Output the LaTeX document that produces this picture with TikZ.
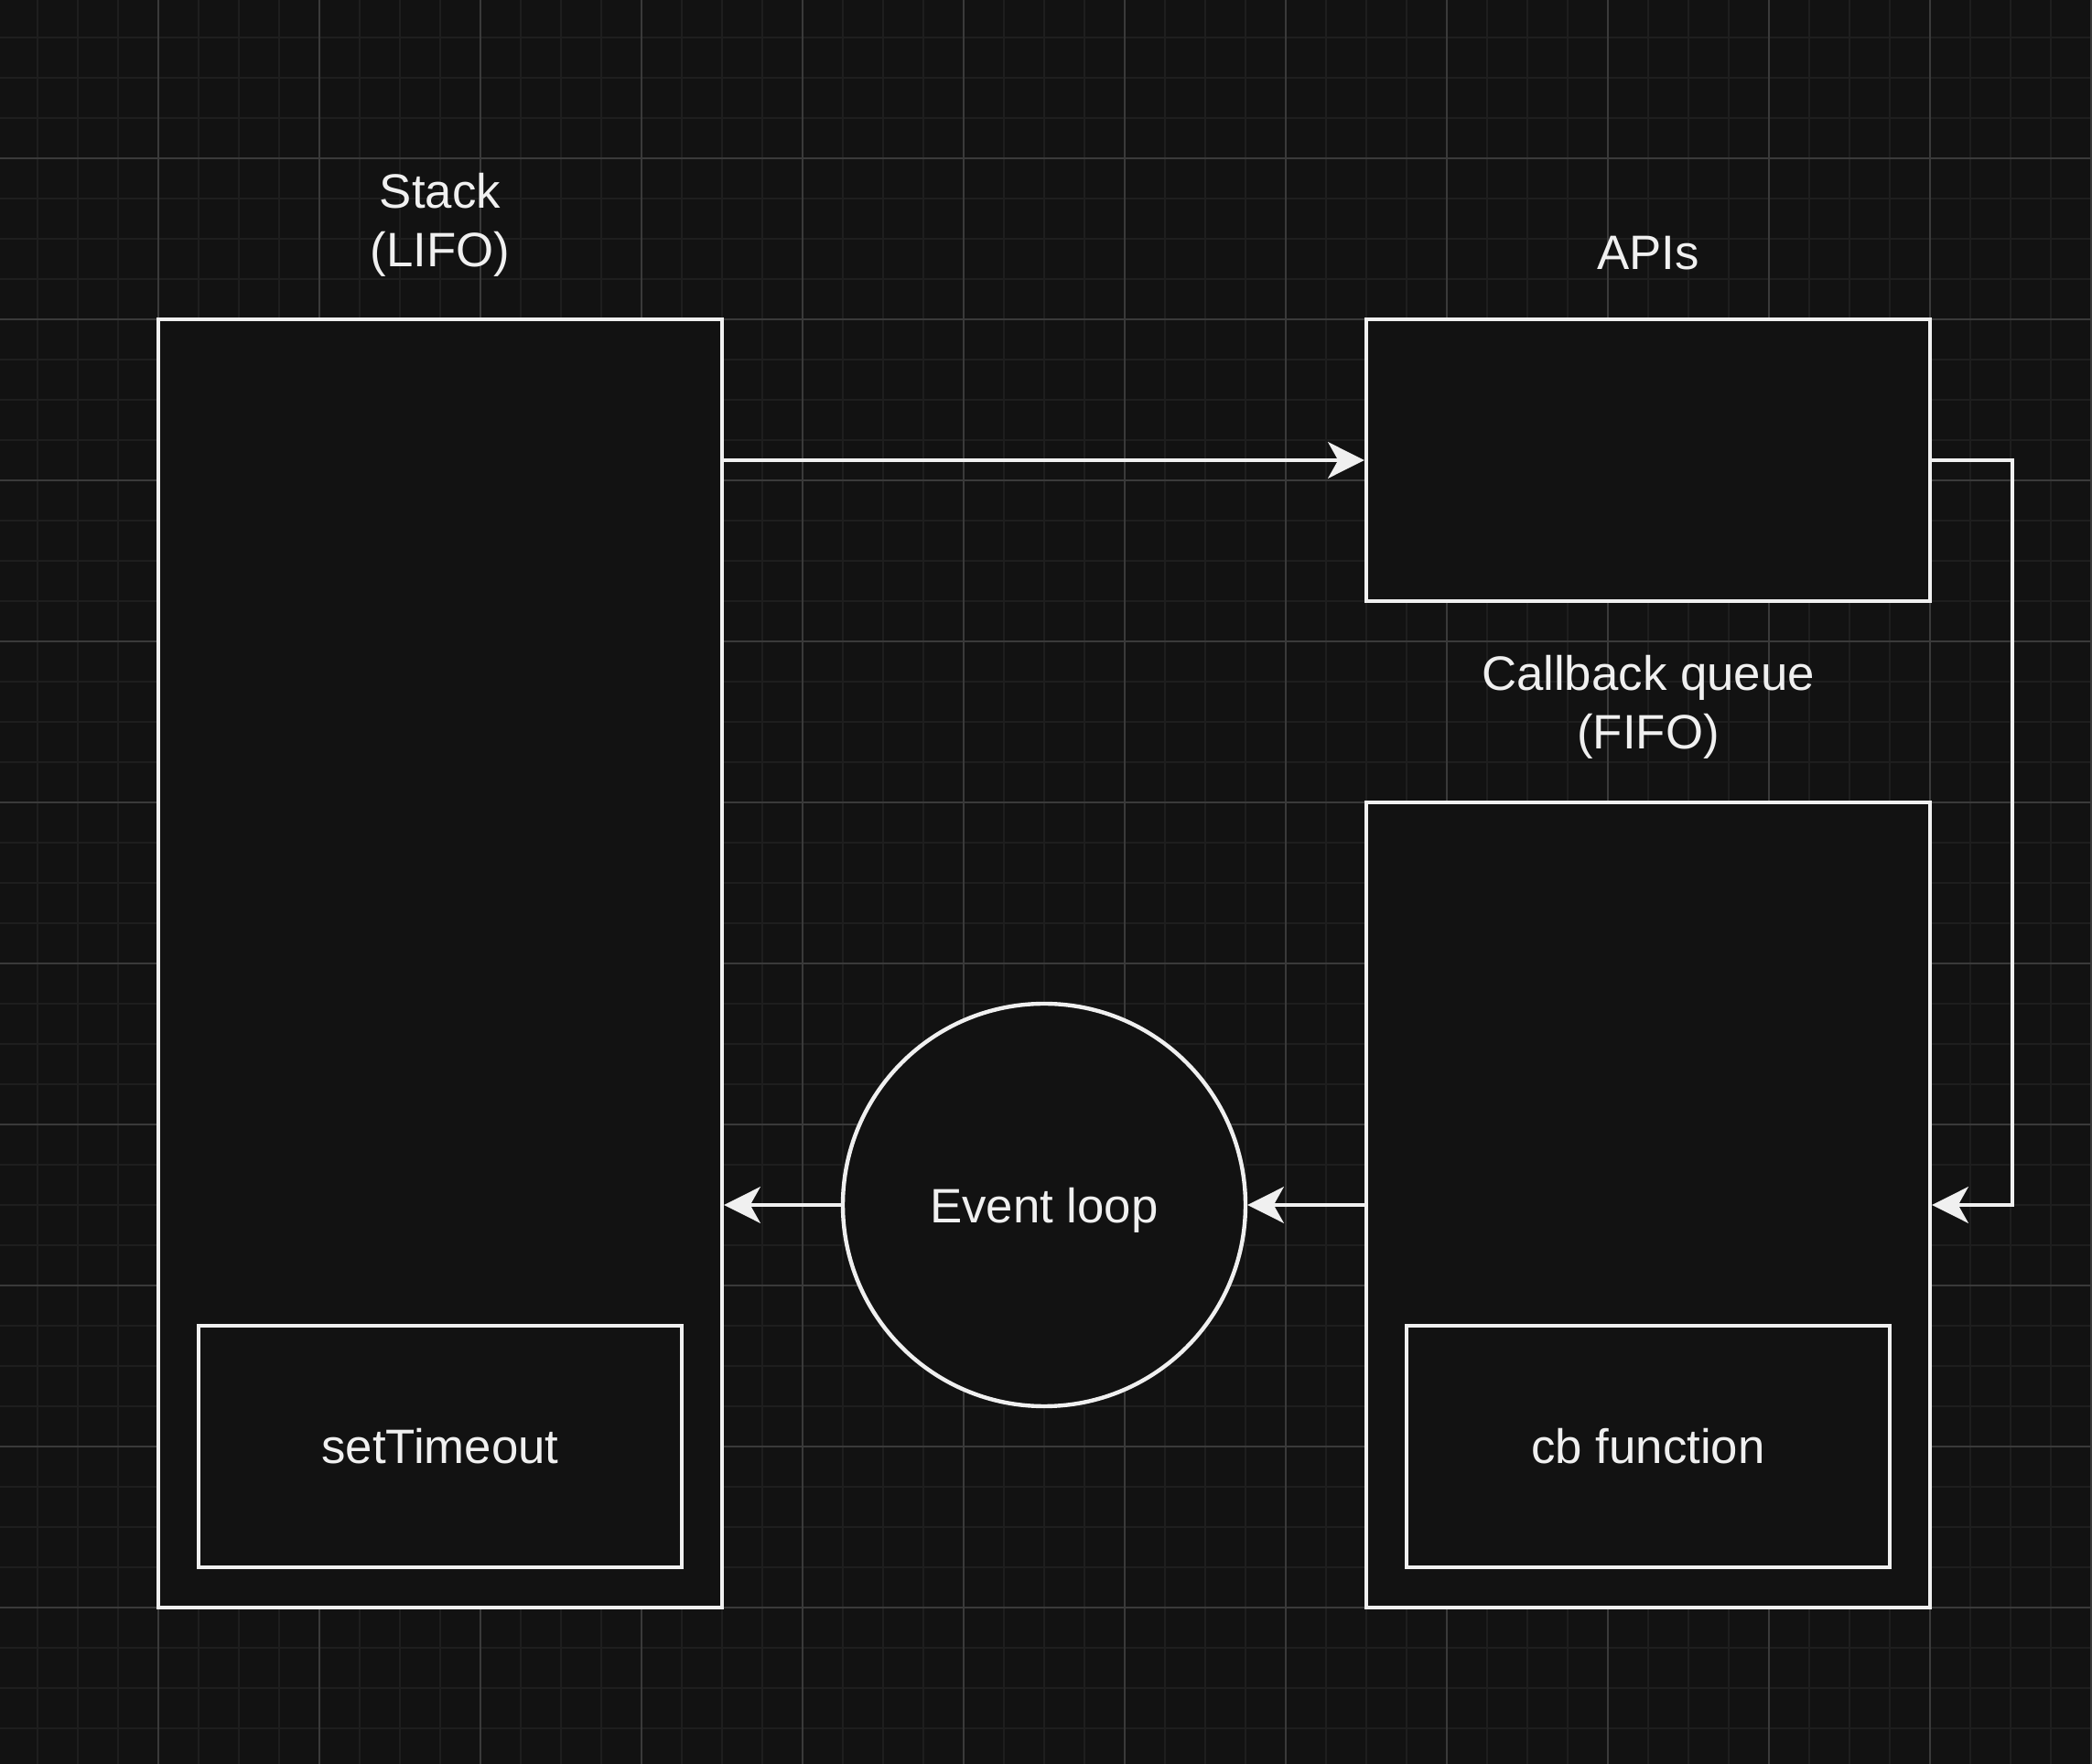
\documentclass[tikz,border=0pt]{standalone}
\usepackage{fontspec}
\setmainfont{Liberation Sans}
\usetikzlibrary{arrows.meta}
\definecolor{canvas}{HTML}{121212}
\definecolor{ink}{HTML}{F0F0F0}
\definecolor{gridminor}{HTML}{1E1E1E}
\definecolor{gridmajor}{HTML}{3A3A3A}
\tikzstyle{box}=[draw=ink, fill=canvas, line width=1pt, inner sep=0pt, text=ink]
\tikzstyle{loop}=[box, circle, minimum size=100pt, text depth=0pt]
\tikzstyle{caption}=[text=ink, align=center, inner sep=0pt]
\tikzstyle{flow}=[->, draw=ink, line width=1pt]

\begin{document}
\begin{tikzpicture}[x=1pt,y=-1pt,>={Stealth[length=9pt,width=9pt,inset=2.5pt]},font=\fontsize{12}{14.5}\selectfont]

    % Canvas
    \useasboundingbox (-39.32,-39.32) rectangle (480.23,398.86);
    \fill[canvas] (-39.32,-39.32) rectangle (480.23,398.86);
    \draw[gridminor,line width=.3pt,step=10pt] (-39.32,-39.32) grid (480.23,398.86);
    \draw[gridmajor,line width=.25pt,step=40pt] (-39.32,-39.32) grid (480.23,398.86);

    % Containers
    \draw (70,200) node[box,minimum width=140pt,minimum height=320pt] (stack) {};
    \draw (370,75) node[box,minimum width=140pt,minimum height=70pt] (apis) {};
    \draw (370,260) node[box,minimum width=140pt,minimum height=200pt] (queue) {};

    % Entries
    \draw (70,320) node[box,minimum width=120pt,minimum height=60pt] (timeout) {setTimeout};
    \draw (370,320) node[box,minimum width=120pt,minimum height=60pt] (cb) {cb function};
    \draw (220,260) node[loop] (evloop) {Event loop};

    % Captions
    \draw (70,16.6) node[caption] (stacklbl) {Stack\\(LIFO)};
    \draw (370,23.6) node[caption] (apislbl) {APIs};
    \draw (370,136.4) node[caption] (queuelbl) {Callback queue\\(FIFO)};

    % Flow
    \draw[flow] (stack.east |- apis.west) -- (apis.west);
    \draw[flow] (apis.east) -- ++(20,0) |- (queue.east);
    \draw[flow] (queue.west) -- (evloop.east);
    \draw[flow] (evloop.west) -- (stack.east |- evloop.west);

\end{tikzpicture}
\end{document}
